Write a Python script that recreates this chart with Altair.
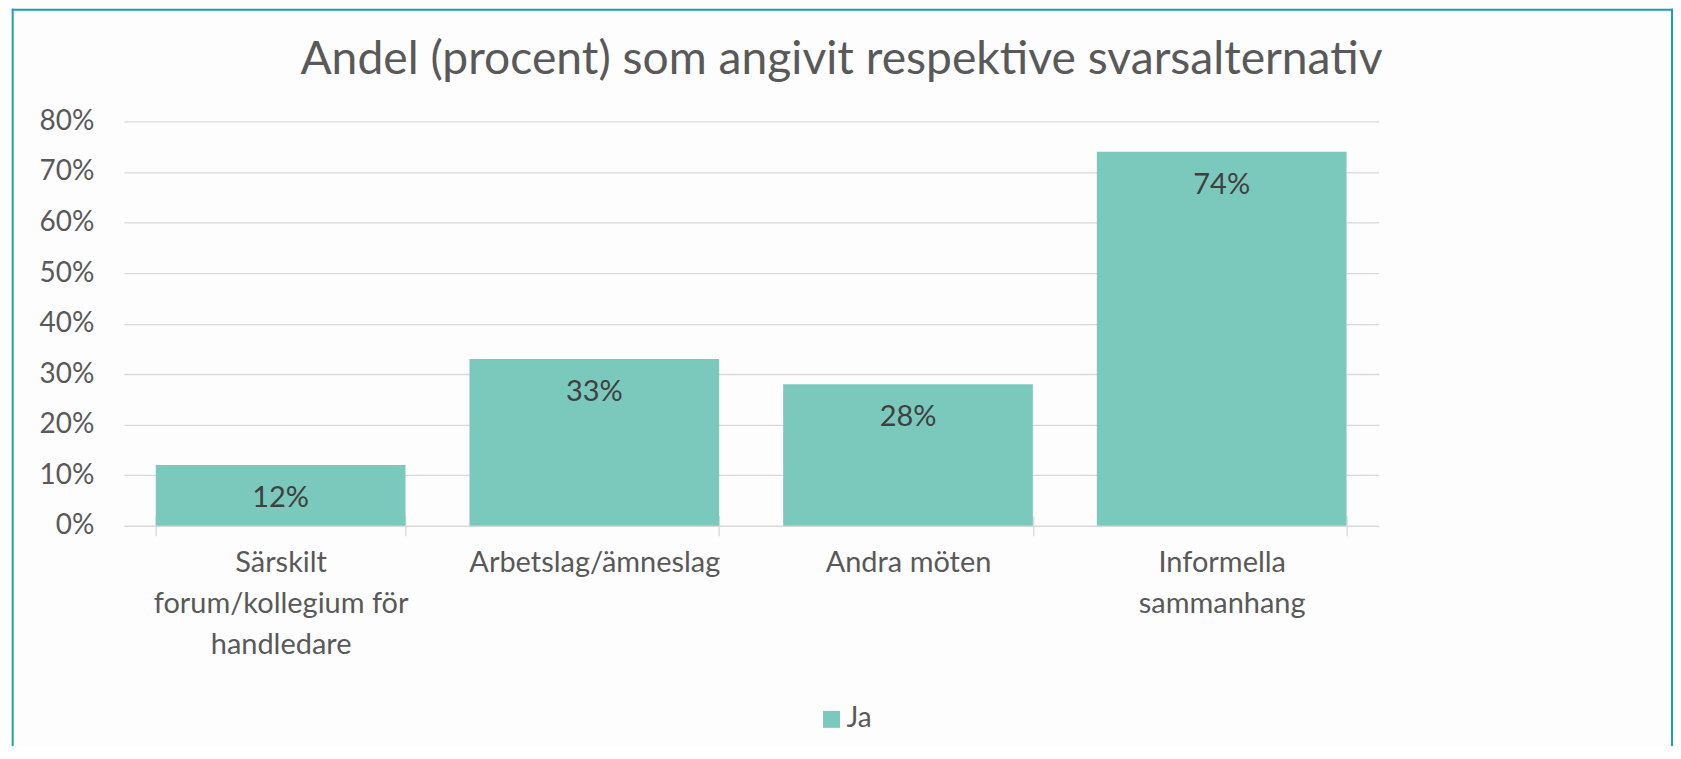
import json
import altair as alt
import pandas as pd

# ---- data ----
categories = [
    "Särskilt forum/kollegium för handledare",
    "Arbetslag/ämneslag",
    "Andra möten",
    "Informella sammanhang",
]
label_lines = [
    ["Särskilt", "forum/kollegium för", "handledare"],
    ["Arbetslag/ämneslag"],
    ["Andra möten"],
    ["Informella", "sammanhang"],
]
values = [12, 33, 28, 74]
series_name = "Ja"
y_ticks = [0, 10, 20, 30, 40, 50, 60, 70, 80]
title_text = "Andel (procent) som angivit respektive svarsalternativ"

df = pd.DataFrame({"kategori": categories, "andel": values, "serie": [series_name] * len(categories)})

FONT = "Lato"
TXT = "#595959"
BAR = "#7BC9BD"
GRID = "#D9D9D9"
FRAME = "#1AA0B4"

W, H = 1257, 405

mapping = {c: l for c, l in zip(categories, label_lines)}
label_expr = json.dumps(mapping, ensure_ascii=False) + "[datum.label]"

base = alt.Chart(df)

bars = base.mark_bar().encode(
    x=alt.X(
        "kategori:N",
        sort=categories,
        scale=alt.Scale(paddingInner=0.204, paddingOuter=0.102),
        axis=alt.Axis(
            title=None,
            domain=False,
            grid=False,
            ticks=True,
            tickBand="extent",
            tickSize=20,
            tickColor=GRID,
            tickWidth=1.3,
            offset=-10,
            labelAngle=0,
            labelFont=FONT,
            labelFontSize=29,
            labelColor=TXT,
            labelPadding=13,
            labelBaseline="top",
            labelLineHeight=41,
            labelExpr=label_expr,
            labelLimit=400,
        ),
    ),
    y=alt.Y(
        "andel:Q",
        scale=alt.Scale(domain=[0, 80], nice=False),
        axis=alt.Axis(
            title=None,
            values=y_ticks,
            domain=False,
            ticks=False,
            grid=True,
            gridColor=GRID,
            gridWidth=1.3,
            labelFont=FONT,
            labelFontSize=28,
            labelColor=TXT,
            labelPadding=30,
            labelExpr="datum.value + '%'",
        ),
    ),
    color=alt.Color(
        "serie:N",
        scale=alt.Scale(domain=[series_name], range=[BAR]),
        legend=alt.Legend(
            title=None,
            orient="none",
            legendX=695,
            legendY=585,
            symbolType="square",
            symbolSize=289,
            symbolStrokeWidth=0,
            labelFont=FONT,
            labelFontSize=28,
            labelColor=TXT,
            labelOffset=1,
            padding=0,
        ),
    ),
)

labels = base.transform_calculate(txt="datum.andel + '%'").mark_text(
    baseline="top", dy=19, font=FONT, fontSize=29, color="#404040"
).encode(
    x=alt.X("kategori:N", sort=categories),
    y="andel:Q",
    text="txt:N",
)

one = pd.DataFrame({"t": [title_text]})

title = alt.Chart(one).mark_text(
    font=FONT, fontSize=46.3, color=TXT, align="center", baseline="alphabetic"
).encode(x=alt.value(719), y=alt.value(-48), text="t:N")

frame_top = alt.Chart(one).mark_rule(stroke=FRAME, strokeWidth=2).encode(
    x=alt.value(-112.3), x2=alt.value(1552), y=alt.value(-111.8)
)
frame_left = alt.Chart(one).mark_rule(stroke=FRAME, strokeWidth=2).encode(
    x=alt.value(-111.3), y=alt.value(-112.8), y2=alt.value(700)
)
frame_right = alt.Chart(one).mark_rule(stroke=FRAME, strokeWidth=2).encode(
    x=alt.value(1551), y=alt.value(-112.8), y2=alt.value(700)
)

chart = (
    alt.layer(bars, labels, title, frame_top, frame_left, frame_right)
    .properties(
        width=W,
        height=H,
        background="#FDFDFD",
        padding={"left": 116, "top": 113, "right": 295, "bottom": 220},
        autosize=alt.AutoSizeParams(type="none"),
    )
    .configure_view(strokeWidth=0, stroke="transparent")
)

chart.save("out.html", embed_options={"renderer": "svg", "actions": False})
